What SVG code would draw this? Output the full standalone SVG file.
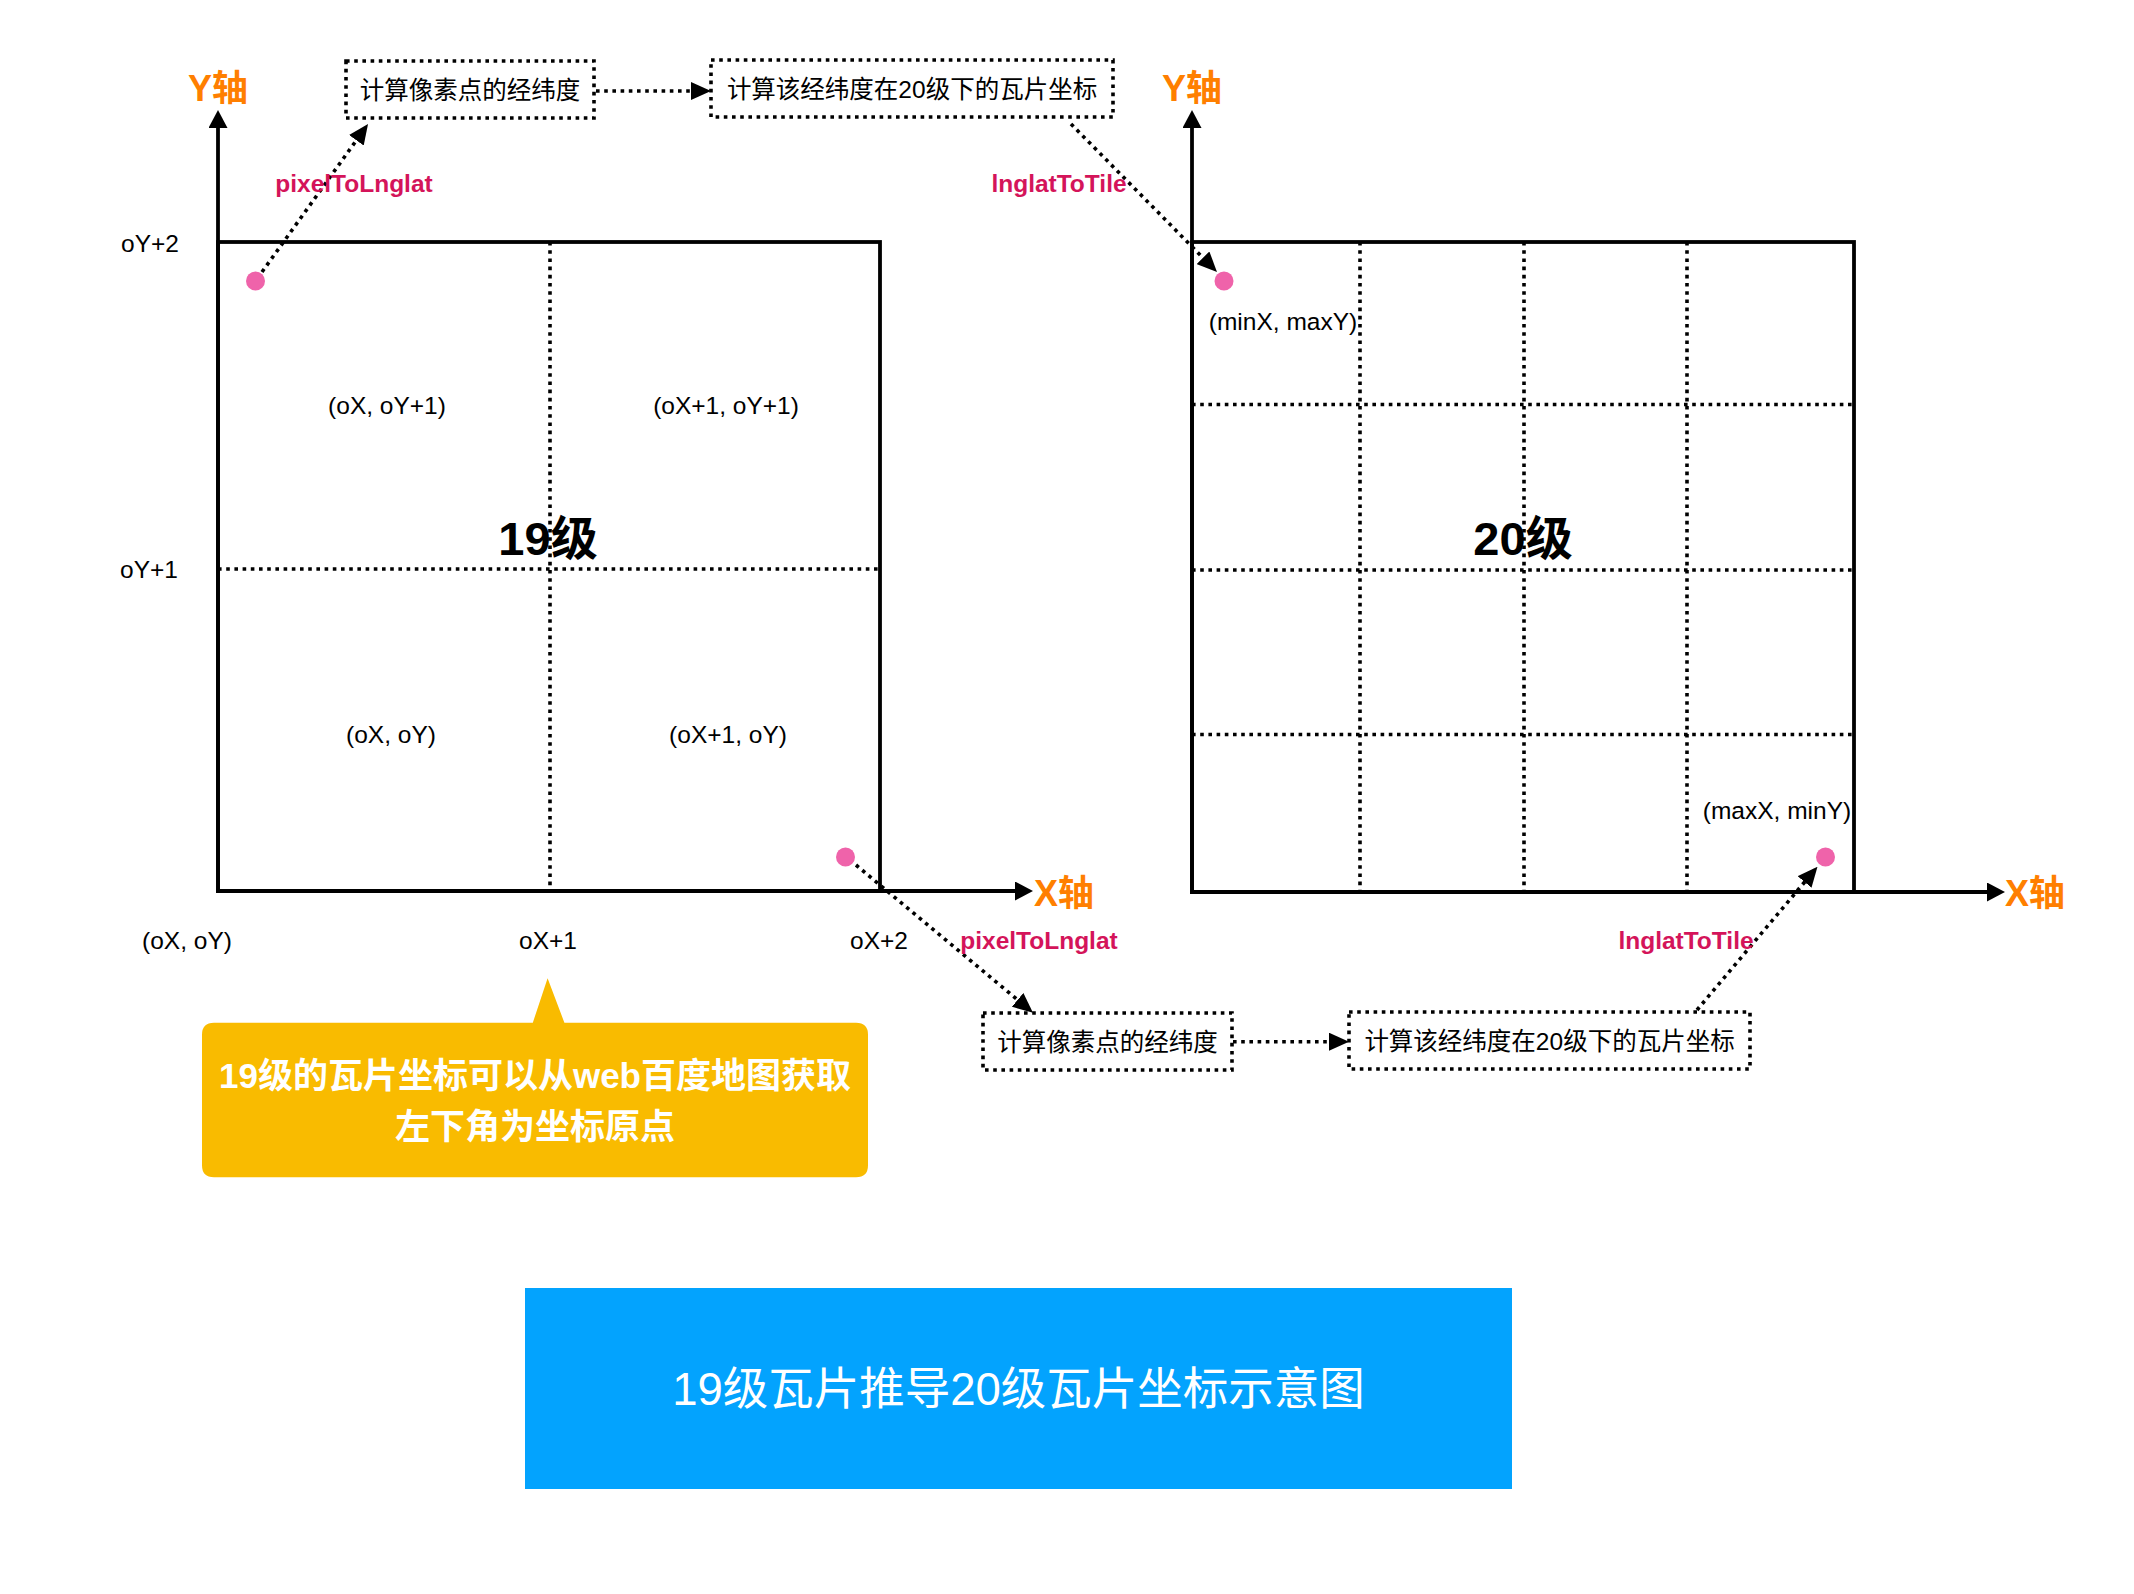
<svg xmlns="http://www.w3.org/2000/svg" width="2134" height="1594" viewBox="0 0 2134 1594">
<style>
.t{font-family:"Liberation Sans","Noto Sans CJK SC",sans-serif;font-size:24.5px;fill:#000;text-anchor:middle}
.axl{font-family:"Liberation Sans","Noto Sans CJK SC",sans-serif;font-size:36px;font-weight:bold;fill:#FF7F00;text-anchor:middle}
.fn{font-family:"Liberation Sans","Noto Sans CJK SC",sans-serif;font-size:24.5px;font-weight:bold;fill:#D4145A;text-anchor:middle}
.lvl{font-family:"Liberation Sans","Noto Sans CJK SC",sans-serif;font-size:47px;font-weight:bold;fill:#000;text-anchor:middle}
.wt{font-family:"Liberation Sans","Noto Sans CJK SC",sans-serif;fill:#fff;text-anchor:middle}
.solid{fill:none;stroke:#000;stroke-width:3.8}
.grid{fill:none;stroke:#000;stroke-width:3.6;stroke-dasharray:3.6 4.6}
.dbox{fill:#fff;stroke:#000;stroke-width:3.6;stroke-dasharray:3.6 4.6}
.conn{fill:none;stroke:#000;stroke-width:3.6;stroke-dasharray:3.6 4.6}
.dot{fill:#EF63AA}
</style>
<defs>
<marker id="arr" viewBox="0 0 20 18" refX="16" refY="9" markerWidth="20" markerHeight="18" markerUnits="userSpaceOnUse" orient="auto">
<path d="M0,0 L20,9 L0,18 Z" fill="#000"/>
</marker>
<marker id="axarr" viewBox="0 0 18 19" refX="14" refY="9.5" markerWidth="18" markerHeight="19" markerUnits="userSpaceOnUse" orient="auto">
<path d="M0,0 L18,9.5 L0,19 Z" fill="#000"/>
</marker>
</defs>
<rect x="0" y="0" width="2134" height="1594" fill="#fff"/>

<g id="panel19">
<rect class="solid" x="218" y="242" width="662" height="649"/>
<line class="grid" x1="550" y1="242" x2="550" y2="891"/>
<line class="grid" x1="218" y1="569" x2="880" y2="569"/>
<text class="t" x="387" y="414">(oX, oY+1)</text>
<text class="t" x="726" y="414">(oX+1, oY+1)</text>
<text class="t" x="391" y="743">(oX, oY)</text>
<text class="t" x="728" y="743">(oX+1, oY)</text>
<text class="lvl" x="548" y="555">19级</text>
</g>

<g id="axes19">
<line class="solid" x1="218" y1="893" x2="218" y2="114" marker-end="url(#axarr)"/>
<line class="solid" x1="216" y1="891" x2="1029" y2="891" marker-end="url(#axarr)"/>
<text class="axl" x="218" y="101">Y轴</text>
<text class="axl" x="1064" y="906">X轴</text>
<text class="t" x="150" y="252">oY+2</text>
<text class="t" x="149" y="578">oY+1</text>
<text class="t" x="187" y="949">(oX, oY)</text>
<text class="t" x="548" y="949">oX+1</text>
<text class="t" x="879" y="949">oX+2</text>
</g>

<g id="panel20">
<rect class="solid" x="1192" y="242" width="662" height="650"/>
<line class="grid" x1="1360" y1="242" x2="1360" y2="892"/>
<line class="grid" x1="1524" y1="242" x2="1524" y2="892"/>
<line class="grid" x1="1687" y1="242" x2="1687" y2="892"/>
<line class="grid" x1="1192" y1="404.5" x2="1854" y2="404.5"/>
<line class="grid" x1="1192" y1="570" x2="1854" y2="570"/>
<line class="grid" x1="1192" y1="734.5" x2="1854" y2="734.5"/>
<text class="lvl" x="1523" y="555">20级</text>
<text class="t" x="1283" y="330">(minX, maxY)</text>
<text class="t" x="1777" y="819">(maxX, minY)</text>
</g>

<g id="axes20">
<line class="solid" x1="1192" y1="894" x2="1192" y2="114" marker-end="url(#axarr)"/>
<line class="solid" x1="1190" y1="892" x2="2001" y2="892" marker-end="url(#axarr)"/>
<text class="axl" x="1192" y="101">Y轴</text>
<text class="axl" x="2035" y="906">X轴</text>
</g>

<g id="points">
<circle id="p19tl" class="dot" cx="255.5" cy="281" r="9.5"/>
<circle id="p19br" class="dot" cx="845.5" cy="857" r="9.5"/>
<circle id="p20tl" class="dot" cx="1224" cy="281" r="9.5"/>
<circle id="p20br" class="dot" cx="1825.5" cy="857" r="9.5"/>
</g>

<g id="box-top-lnglat">
<rect class="dbox" x="346" y="61" width="248" height="57"/>
<text class="t" x="470" y="99">计算像素点的经纬度</text>
</g>
<g id="box-top-tile">
<rect class="dbox" x="711" y="60" width="402" height="57"/>
<text class="t" x="912" y="98">计算该经纬度在20级下的瓦片坐标</text>
</g>
<g id="box-bottom-lnglat">
<rect class="dbox" x="983" y="1013" width="249" height="57"/>
<text class="t" x="1107.5" y="1051">计算像素点的经纬度</text>
</g>
<g id="box-bottom-tile">
<rect class="dbox" x="1349" y="1012" width="401" height="57"/>
<text class="t" x="1549.5" y="1050">计算该经纬度在20级下的瓦片坐标</text>
</g>

<g id="connectors">
<line class="conn" x1="262" y1="272" x2="365.7" y2="127.3" marker-end="url(#arr)"/>
<line class="conn" x1="596" y1="91" x2="707" y2="91" marker-end="url(#arr)"/>
<line class="conn" x1="1071" y1="124" x2="1214.2" y2="269.2" marker-end="url(#arr)"/>
<line class="conn" x1="856" y1="865" x2="1029.9" y2="1010.1" marker-end="url(#arr)"/>
<line class="conn" x1="1233" y1="1041.7" x2="1345" y2="1041.7" marker-end="url(#arr)"/>
<line class="conn" x1="1697" y1="1010" x2="1814.9" y2="869.8" marker-end="url(#arr)"/>
<text class="fn" x="354" y="192">pixelToLnglat</text>
<text class="fn" x="1059" y="192">lnglatToTile</text>
<text class="fn" x="1039" y="949">pixelToLnglat</text>
<text class="fn" x="1686" y="949">lnglatToTile</text>
</g>

<g id="callout">
<path d="M214,1022.7 L532.8,1022.7 L547.6,978.3 L564.4,1022.7 L856,1022.7 Q868,1022.7 868,1034.7 L868,1165.3 Q868,1177.3 856,1177.3 L214,1177.3 Q202,1177.3 202,1165.3 L202,1034.7 Q202,1022.7 214,1022.7 Z" fill="#F9BB00"/>
<text class="wt" x="535" y="1088" font-size="35" font-weight="bold">19级的瓦片坐标可以从web百度地图获取</text>
<text class="wt" x="535" y="1139" font-size="35" font-weight="bold">左下角为坐标原点</text>
</g>

<g id="title">
<rect x="525" y="1288" width="987" height="201" fill="#03A3FE"/>
<text class="wt" x="1018.5" y="1405" font-size="45.5">19级瓦片推导20级瓦片坐标示意图</text>
</g>
</svg>
